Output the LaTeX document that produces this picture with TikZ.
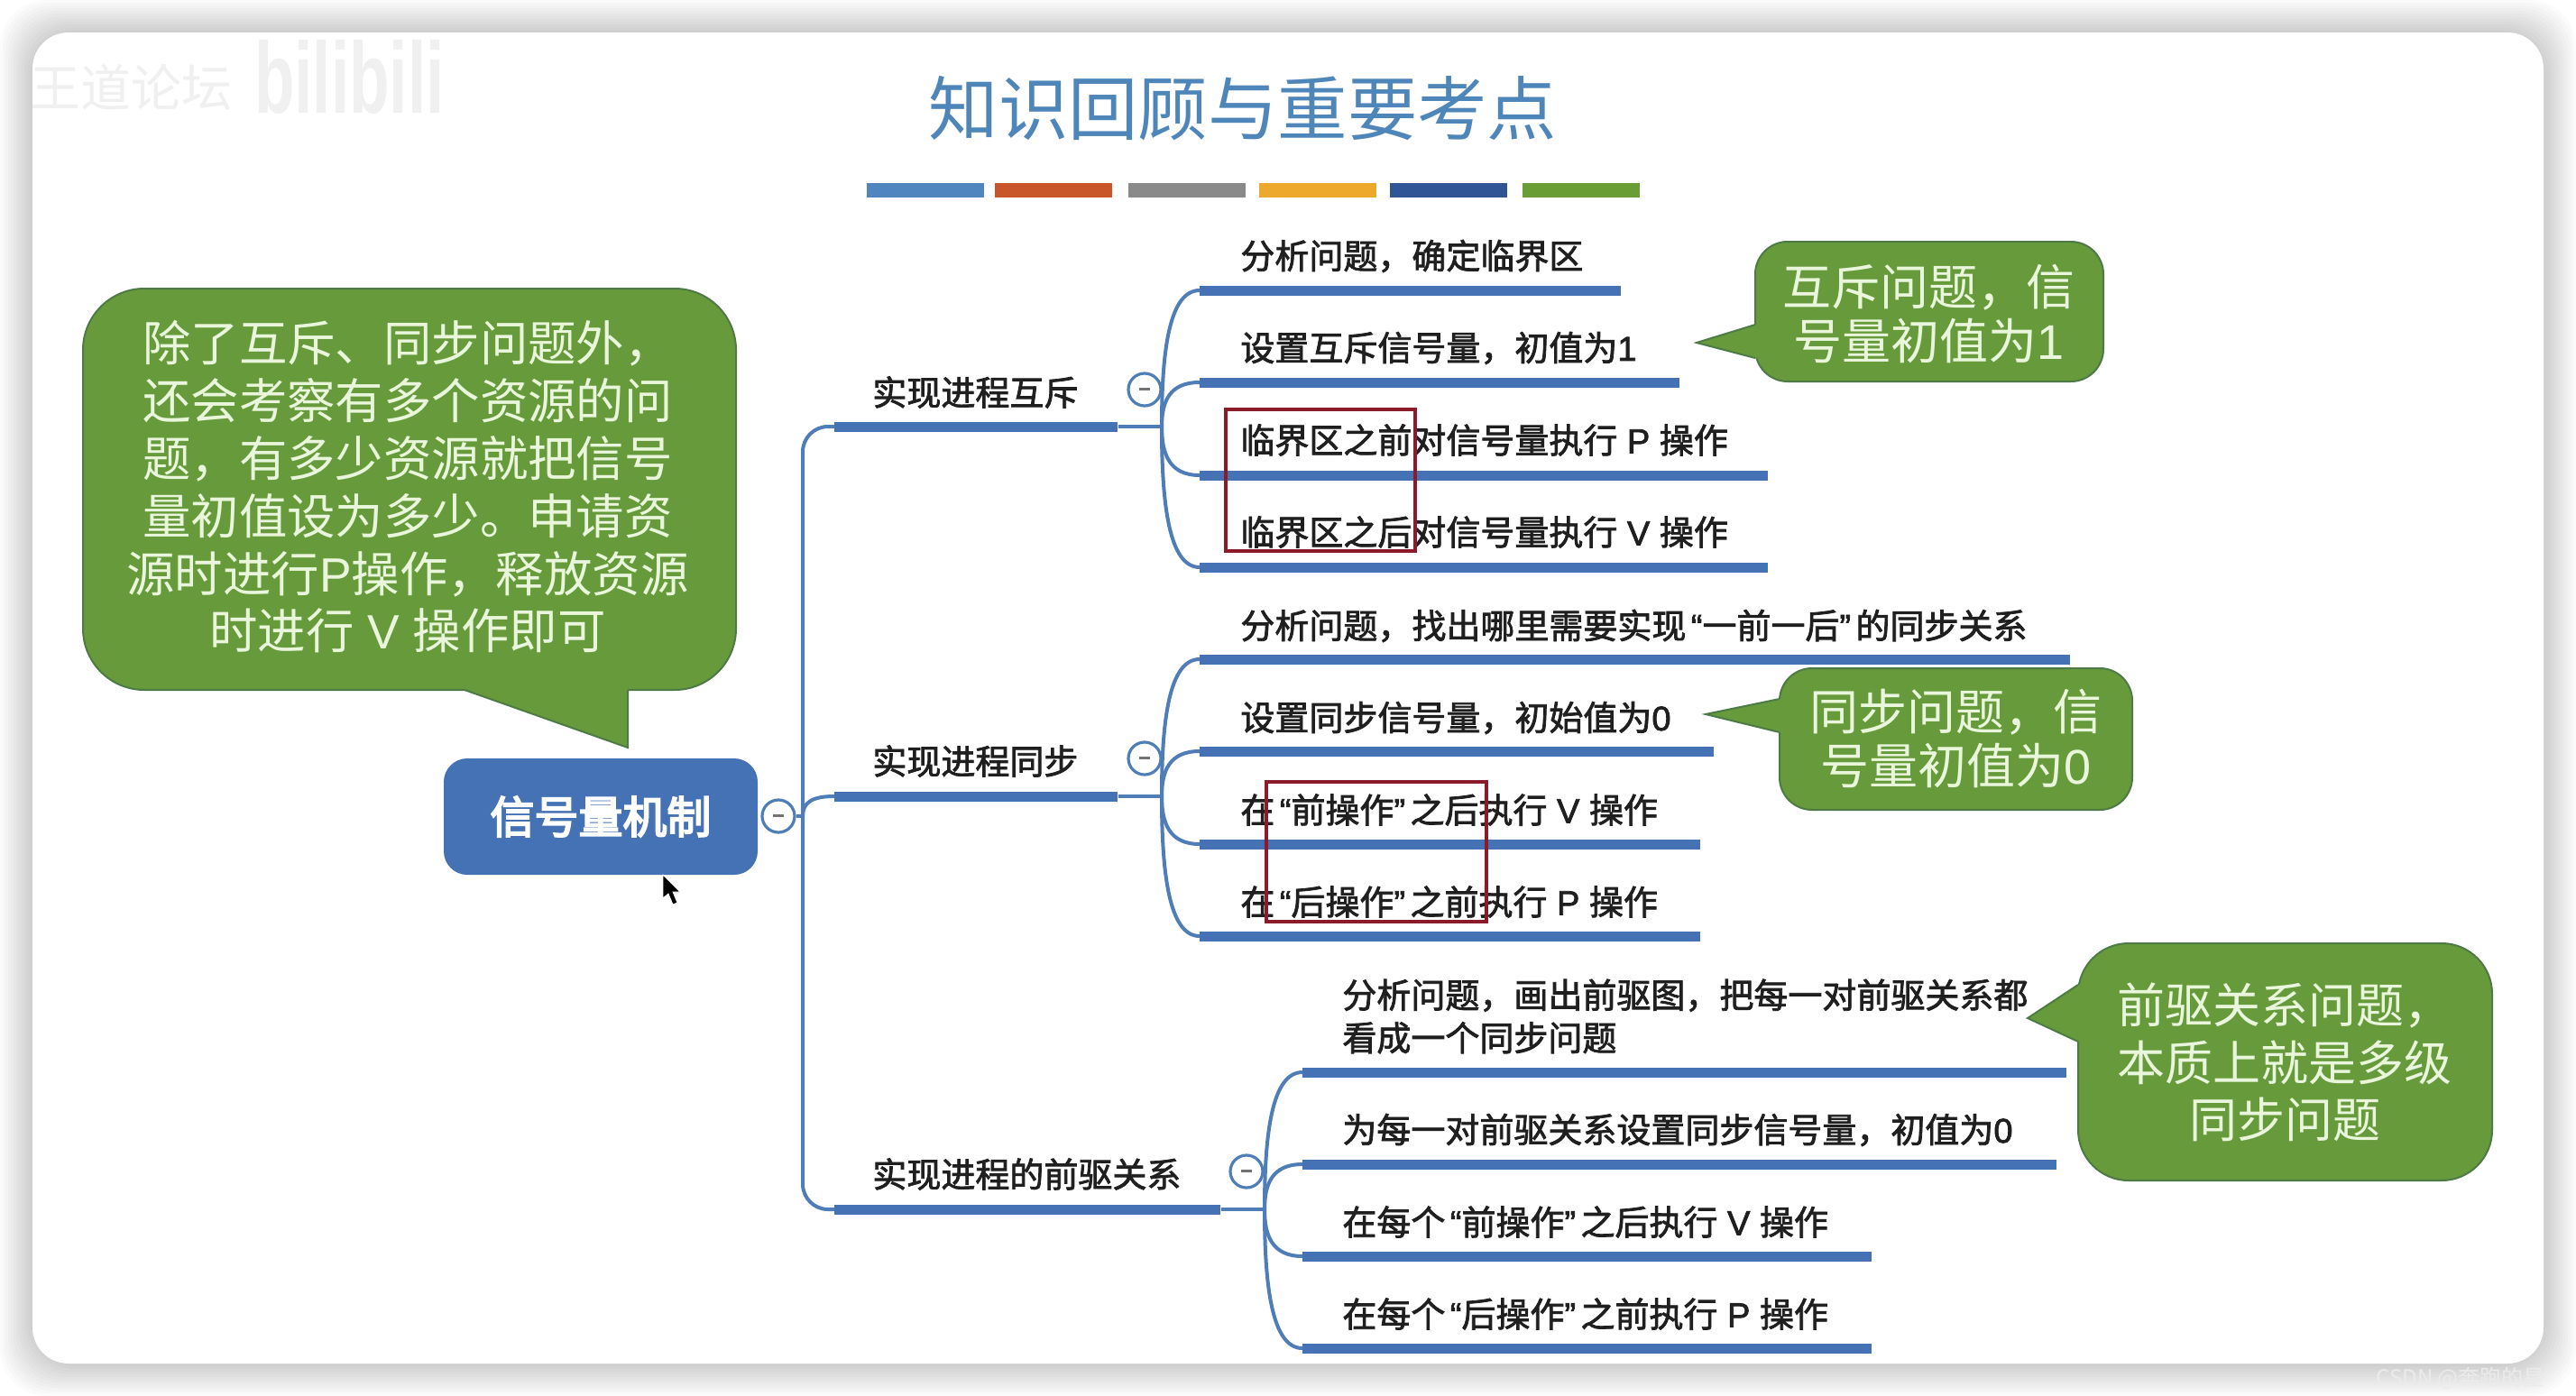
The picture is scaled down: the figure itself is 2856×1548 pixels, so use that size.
\documentclass[tikz,border=0pt]{standalone}
\usepackage{fontspec}
\usetikzlibrary{calc}
\setmainfont{Noto Sans CJK SC}
\newfontfamily\cjkmed[FakeBold=2]{Noto Sans CJK SC}
\newfontfamily\cjkbold[FakeBold=4]{Noto Sans CJK SC}
\newfontfamily\latfont{Liberation Sans}
\newfontfamily\latmed[FakeBold=2]{Liberation Sans}
\newfontfamily\latbold{Liberation Sans Bold}
\newcommand{\ltn}[1]{{\latmed #1}}
\newcommand{\ltp}[1]{{\latfont #1}}
\newcommand{\qopen}{\hspace{2.7pt}\ltn{“}}
\newcommand{\qclose}{\ltn{”}\hspace{2.7pt}}
\definecolor{barblue}{HTML}{4472B4}
\definecolor{linkblue}{HTML}{4F7DB8}
\definecolor{titleblue}{HTML}{4F86BA}
\definecolor{cgreen}{HTML}{669A3B}
\definecolor{cedge}{HTML}{4E7A45}
\definecolor{cfont}{HTML}{E9F6DC}
\definecolor{redbox}{HTML}{8B1A2B}
\definecolor{wmark}{HTML}{F0F0F0}
\tikzset{
  barline/.style={anchor=west,fill=barblue,inner sep=0pt,minimum height=5.5pt,minimum width=#1*0.5pt},
  colorbar/.style={anchor=west,inner sep=0pt,minimum height=8pt,minimum width=65pt},
  link/.style={draw=linkblue,line width=2pt},
  collapse/.style={circle,draw=linkblue,line width=1.6pt,fill=white,inner sep=0pt,minimum size=18pt},
  itemtext/.style={anchor=west,inner sep=0pt,text=black!88,font=\fontsize{19}{23.7}\selectfont\cjkmed,align=left},
  calloutshape/.style={fill=cgreen,draw=cedge,line width=1pt},
  calloutedge/.style={draw=cedge,line width=1pt},
  callouttext/.style={text=cfont,align=center,inner sep=0pt},
  redframe/.style={draw=redbox,line width=1.8pt}
}
\newcommand{\dash}{\textcolor{black!55}{\rule[0.5pt]{6pt}{1.8pt}}}
\begin{document}
\begin{tikzpicture}[x=0.5pt,y=-0.5pt]
\useasboundingbox (0,0) rectangle (2856,1548);
\fill[white] (0,0) rectangle (2856,1548);
% card shadow
\foreach \r in {36,33,...,3}{
  \fill[black,opacity=0.014,rounded corners=26pt] (36-\r,36-\r) rectangle (2820+\r,1512+\r);
}
\fill[white,rounded corners=20pt] (36,36) rectangle (2820,1512);
% watermarks
\begin{scope}
\clip (36,36) rectangle (600,200);
\node[anchor=west,inner sep=0pt,text=wmark,font=\fontsize{28}{30}\selectfont] (wm1) at (33,97) {王道论坛};
\node[anchor=west,inner sep=0pt,text=wmark,xscale=0.65,font=\fontsize{56}{60}\selectfont\latbold] (wm2) at (282,85) {bilibili};
\end{scope}
\node[anchor=east,inner sep=0pt,text=white!92!black,font=\fontsize{12}{14}\selectfont] (wm3) at (2822,1528) {CSDN @奔跑的星};
% title
\node[inner sep=0pt,text=titleblue,font=\fontsize{38.7}{44}\selectfont] (title) at (1378,120) {知识回顾与重要考点};
\node[colorbar,fill={rgb,255:red,79;green,134;blue,192}] (c1) at (961,211) {};
\node[colorbar,fill={rgb,255:red,200;green,86;blue,42}] (c2) at (1103,211) {};
\node[colorbar,fill={rgb,255:red,138;green,138;blue,138}] (c3) at (1251,211) {};
\node[colorbar,fill={rgb,255:red,237;green,169;blue,44}] (c4) at (1396,211) {};
\node[colorbar,fill={rgb,255:red,47;green,85;blue,151}] (c5) at (1541,211) {};
\node[colorbar,fill={rgb,255:red,106;green,158;blue,53}] (c6) at (1688,211) {};
% level-1 bars and hubs
\node[barline=314] (l1) at (925,473) {};
\node[barline=314] (l2) at (925,883) {};
\node[barline=428] (l3) at (925,1341) {};
\coordinate (h1) at (1288,473);
\coordinate (h2) at (1288,883);
\coordinate (h3) at (1402,1341);
\coordinate (trT) at (890,473);
\coordinate (trM) at (890,905);
\coordinate (trB) at (890,1341);
% level-2 bars
\node[barline=467] (a1) at (1330,322) {};
\node[barline=532] (a2) at (1330,424) {};
\node[barline=630] (a3) at (1330,527) {};
\node[barline=630] (a4) at (1330,629) {};
\node[barline=965] (b1) at (1330,731) {};
\node[barline=570] (b2) at (1330,833) {};
\node[barline=555] (b3) at (1330,936) {};
\node[barline=555] (b4) at (1330,1038) {};
\node[barline=847] (d1) at (1444,1189) {};
\node[barline=836] (d2) at (1444,1291) {};
\node[barline=631] (d3) at (1444,1393) {};
\node[barline=631] (d4) at (1444,1495) {};
% root and collapse
\node[fill=barblue,rounded corners=13pt,inner sep=0pt,minimum width=174pt,minimum height=64.5pt,text=white,font=\fontsize{24.5}{28}\selectfont\cjkbold] (root) at (666,905.5) {\raisebox{-1.6pt}{信号量机制}};
% connectors
\draw[link,rounded corners=14pt] (l1.west) -- (trT) -- (trB) -- (l3.west);
\draw[link] (trM) .. controls (890,890) and (900,883) .. (l2.west);
\draw[link] (l1.east) -- (h1);
\draw[link] (l2.east) -- (h2);
\draw[link] (l3.east) -- (h3);
\foreach \h/\t in {h1/a1,h1/a2,h1/a3,h1/a4,h2/b1,h2/b2,h2/b3,h2/b4,h3/d1,h3/d2,h3/d3,h3/d4}{
  \draw[link] (\h) .. controls ($(\h)!0.55!(\h|-\t.west)$) and ($(\h|-\t.west)+(8,0)$) .. (\t.west);
}
\node[collapse] (k0) at (863,905) {\dash};
\draw[link] (k0.east) -- (trM);
\node[collapse] (k1) at (1269,432) {\dash};
\node[collapse] (k2) at (1269,841) {\dash};
\node[collapse] (k3) at (1382,1299) {\dash};
% level-1 text
\node[itemtext] (t1) at (967,435) {实现进程互斥};
\node[itemtext] (t2) at (967,844) {实现进程同步};
\node[itemtext] (t3) at (967,1302) {实现进程的前驱关系};
% level-2 text
\node[itemtext] (ta1) at (1375,284) {分析问题，确定临界区};
\node[itemtext] (ta2) at (1375,386) {设置互斥信号量，初值为\ltn{1}};
\node[itemtext] (ta3) at (1375,488) {临界区之前对信号量执行\ltn{ P }操作};
\node[itemtext] (ta4) at (1375,590) {临界区之后对信号量执行\ltn{ V }操作};
\node[itemtext] (tb1) at (1375,694) {分析问题，找出哪里需要实现\qopen 一前一后\qclose 的同步关系};
\node[itemtext] (tb2) at (1375,796) {设置同步信号量，初始值为\ltn{0}};
\node[itemtext] (tb3) at (1375,898) {在\qopen 前操作\qclose 之后执行\ltn{ V }操作};
\node[itemtext] (tb4) at (1375,1000) {在\qopen 后操作\qclose 之前执行\ltn{ P }操作};
\node[itemtext] (td1) at (1488,1127) {分析问题，画出前驱图，把每一对前驱关系都\\看成一个同步问题};
\node[itemtext] (td2) at (1488,1253) {为每一对前驱关系设置同步信号量，初值为\ltn{0}};
\node[itemtext] (td3) at (1488,1355) {在每个\qopen 前操作\qclose 之后执行\ltn{ V }操作};
\node[itemtext] (td4) at (1488,1457) {在每个\qopen 后操作\qclose 之前执行\ltn{ P }操作};
% red frames
\draw[redframe] (1359,454) rectangle (1569,611);
\draw[redframe] (1404,867) rectangle (1648,1022);
% callouts: body, then tail that hides the body edge at its base
\draw[calloutshape,rounded corners=34pt] (92,320) rectangle (816,765);
\fill[cgreen] (515,760) -- (696,760) -- (696,829) -- (515,765) -- cycle;
\draw[calloutedge] (515,765) -- (696,829) -- (696,765);
\node[callouttext,font=\fontsize{26.7}{31.9}\selectfont] (cl) at (452,540) {除了互斥、同步问题外，\\还会考察有多个资源的问\\题，有多少资源就把信号\\量初值设为多少。申请资\\源时进行\ltp{P}操作，释放资源\\时进行\ltp{ V }操作即可};

\draw[calloutshape,rounded corners=18pt] (1946,268) rectangle (2332,423);
\fill[cgreen] (1952,360) -- (1946,360) -- (1881,380) -- (1946,397) -- (1952,397) -- cycle;
\draw[calloutedge] (1946,360) -- (1881,380) -- (1946,397);
\node[callouttext,font=\fontsize{27}{30}\selectfont] (c1t) at (2138,348) {互斥问题，信\\号量初值为\ltp{1}};

\draw[calloutshape,rounded corners=18pt] (1973,741) rectangle (2364,898);
\fill[cgreen] (1979,775) -- (1973,775) -- (1891,792) -- (1973,812) -- (1979,812) -- cycle;
\draw[calloutedge] (1973,775) -- (1891,792) -- (1973,812);
\node[callouttext,font=\fontsize{27}{30}\selectfont] (c2t) at (2168,819) {同步问题，信\\号量初值为\ltp{0}};

\draw[calloutshape,rounded corners=28pt] (2304,1046) rectangle (2763,1309);
\fill[cgreen] (2310,1092) -- (2304,1092) -- (2248,1129) -- (2304,1155) -- (2310,1155) -- cycle;
\draw[calloutedge] (2304,1092) -- (2248,1129) -- (2304,1155);
\node[callouttext,font=\fontsize{26.5}{31.8}\selectfont] (c3t) at (2533,1178) {前驱关系问题，\\本质上就是多级\\同步问题};
% cursor
\fill[black,draw=white,line width=0.4pt] (735,970) -- (735,996) -- (741,991) -- (746,1003) -- (751,1001) -- (746,989) -- (754,989) -- cycle;
\end{tikzpicture}
\end{document}
